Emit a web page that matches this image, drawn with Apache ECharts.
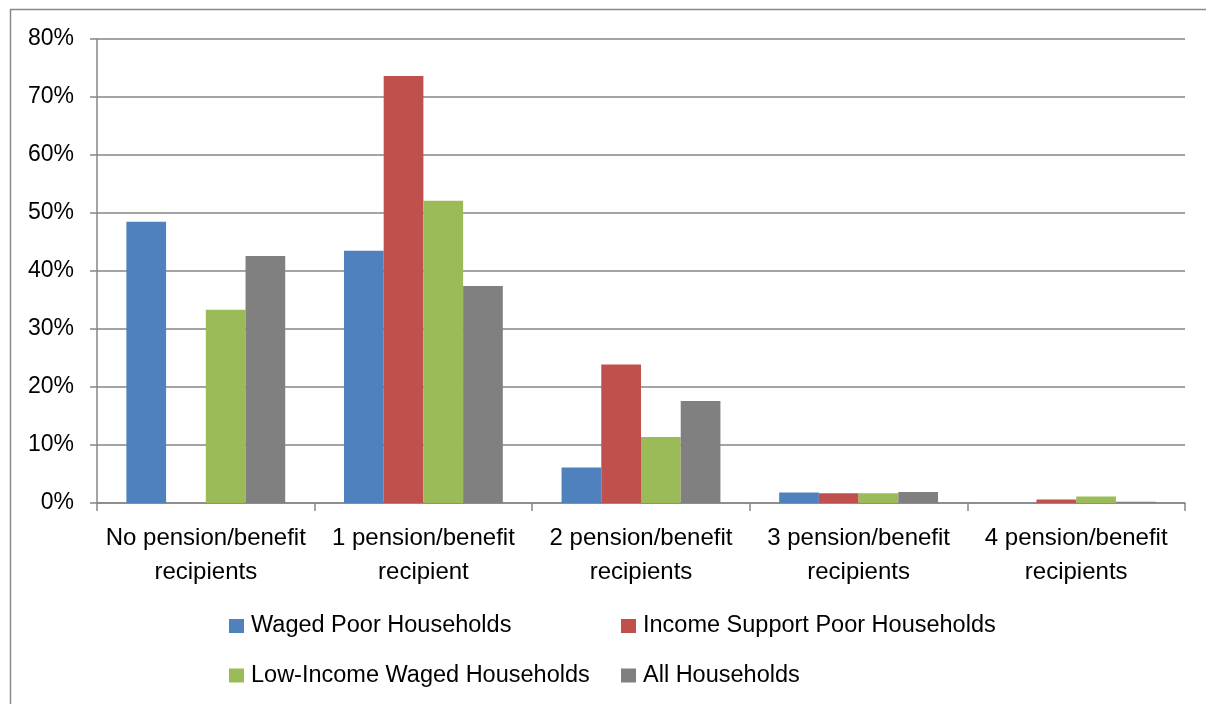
<!DOCTYPE html>
<html>
<head>
<meta charset="utf-8">
<script src="https://cdn.jsdelivr.net/npm/echarts@6/dist/echarts.min.js"></script>
<style>
html,body{margin:0;padding:0;background:#fff;}
#chart{width:1206px;height:704px;}
</style>
</head>
<body>
<div id="chart"></div>
<script>
const categories = ["No pension/benefit\nrecipients", "1 pension/benefit\nrecipient", "2 pension/benefit\nrecipients", "3 pension/benefit\nrecipients", "4 pension/benefit\nrecipients"];
const seriesNames = ["Waged Poor Households", "Income Support Poor Households", "Low-Income Waged Households", "All Households"];
const wagedPoor = [48.5, 43.5, 6.1, 1.8, 0];
const incomeSupportPoor = [0, 73.6, 23.9, 1.7, 0.6];
const lowIncomeWaged = [33.3, 52.1, 11.4, 1.7, 1.1];
const allHouseholds = [42.6, 37.4, 17.6, 1.9, 0.2];
const colors = ["#4F81BD", "#C0504D", "#9BBB59", "#808080"];
const yTicks = [0, 10, 20, 30, 40, 50, 60, 70, 80];

const FONT = "'Liberation Sans', Arial, sans-serif";
const values = [wagedPoor, incomeSupportPoor, lowIncomeWaged, allHouseholds];
const legendPos = [[229, 614], [621, 614], [229, 663.5], [621, 663.5]];

const chart = echarts.init(document.getElementById('chart'), null, {renderer: 'canvas'});
const option = {
  animation: false,
  backgroundColor: '#fff',
  textStyle: {fontFamily: FONT},
  graphic: [{
    type: 'rect', silent: true, z: -1,
    shape: {x: 10.5, y: 9.5, width: 1300, height: 800},
    style: {fill: 'none', stroke: '#8a8a8a', lineWidth: 1.5}
  }],
  grid: {left: 97, right: 21, top: 39, bottom: 201, containLabel: false},
  legend: seriesNames.map((n, i) => ({
    data: [n],
    left: legendPos[i][0], top: legendPos[i][1],
    padding: 0,
    icon: 'rect', itemWidth: 15, itemHeight: 14, itemGap: 6,
    textStyle: {fontSize: 23.5, lineHeight: 24, color: '#000', fontFamily: FONT, padding: [0, 0, 0, 2]},
    selectedMode: false
  })),
  xAxis: {
    type: 'category',
    data: categories,
    axisLine: {lineStyle: {color: '#868686', width: 1.5}},
    axisTick: {show: true, length: 8, inside: false, lineStyle: {color: '#868686', width: 1.5}},
    axisLabel: {fontSize: 24, color: '#000', lineHeight: 34, margin: 18, fontFamily: FONT, interval: 0}
  },
  yAxis: {
    type: 'value',
    min: 0, max: 80, interval: 10,
    axisLine: {show: true, lineStyle: {color: '#868686', width: 1.5}},
    axisTick: {show: true, length: 7, lineStyle: {color: '#868686', width: 1.5}},
    splitLine: {lineStyle: {color: '#868686', width: 1.5}},
    axisLabel: {fontSize: 23, color: '#000', margin: 23, fontFamily: FONT,
      formatter: v => yTicks.includes(v) ? v + '%' : ''}
  },
  series: seriesNames.map((n, i) => ({
    name: n,
    type: 'bar',
    data: values[i],
    barGap: '0%',
    barCategoryGap: '27%',
    itemStyle: {color: colors[i], borderWidth: 0}
  }))
};
chart.setOption(option);
</script>
</body>
</html>
